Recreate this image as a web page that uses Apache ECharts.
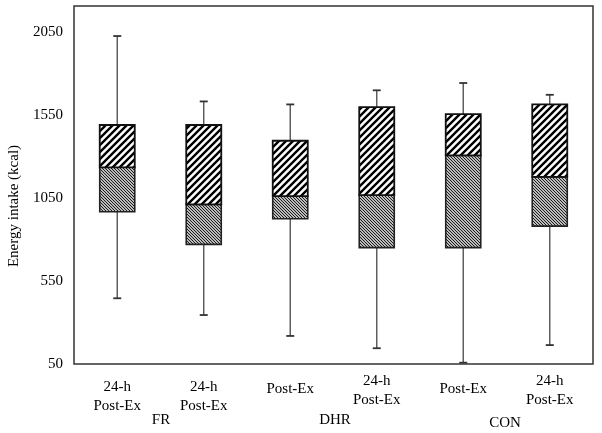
<!DOCTYPE html>
<html>
<head>
<meta charset="utf-8">
<script src="https://cdn.jsdelivr.net/npm/echarts@6/dist/echarts.min.js"></script>
<style>html,body{margin:0;padding:0;background:#fff;}#c{width:602px;height:433px;}</style>
</head>
<body>
<div id="c"></div>
<script>
// ---- data ----
const categories = ['24-h\nPost-Ex', '24-h\nPost-Ex', 'Post-Ex', '24-h\nPost-Ex', 'Post-Ex', '24-h\nPost-Ex'];
const whiskerMin = [446, 345, 219, 145, 58, 164];
const q1Values   = [967, 771, 925, 751, 751, 881];
const medians    = [1235, 1012, 1062, 1068, 1307, 1177];
const q3Values   = [1490, 1490, 1395, 1598, 1556, 1614];
const whiskerMax = [2026, 1632, 1614, 1699, 1743, 1672];
const yTicks = [50, 550, 1050, 1550, 2050];
const groupLabels = ['FR', 'DHR', 'CON'];
const yName = 'Energy intake (kcal)';

// ---- patterns ----
function makePattern(size, lw, color, dir) {
  const c = document.createElement('canvas');
  c.width = size; c.height = size;
  const g = c.getContext('2d');
  g.fillStyle = '#fff'; g.fillRect(0, 0, size, size);
  g.strokeStyle = color; g.lineWidth = lw; g.lineCap = 'square';
  g.beginPath();
  if (dir === '/') {
    g.moveTo(-size, size); g.lineTo(size, -size);
    g.moveTo(0, size * 2); g.lineTo(size * 2, 0);
    g.moveTo(-size, size * 2); g.lineTo(size * 2, -size);
  } else {
    g.moveTo(-size, -size); g.lineTo(size * 2, size * 2);
    g.moveTo(0, -size); g.lineTo(size * 2, size);
    g.moveTo(-size, 0); g.lineTo(size, size * 2);
  }
  g.stroke();
  return c;
}
const boldPattern = makePattern(7, 2.4, '#000', '/');
const finePattern = makePattern(3, 1.1, '#111', '\\');

const seriesData = categories.map((c, i) => [i, whiskerMin[i], q1Values[i], medians[i], q3Values[i], whiskerMax[i]]);

const FONT = 'Liberation Serif';
const gaps = [11.5, 11.5, 13.5, 5.5, 13.5, 5.5];
const rich = { t: { fontFamily: FONT, fontSize: 15, color: '#000', lineHeight: 19 } };
gaps.forEach((g, i) => { rich['g' + i] = { fontSize: 1, lineHeight: g, height: g }; });

const chart = echarts.init(document.getElementById('c'), null, { renderer: 'canvas' });
chart.setOption({
  animation: false,
  backgroundColor: '#fff',
  grid: { left: 74, right: 9, top: 6, bottom: 69, containLabel: false, outerBoundsMode: 'none',
          show: true, borderColor: '#333', borderWidth: 1.5, backgroundColor: 'transparent' },
  xAxis: {
    type: 'category',
    data: categories,
    axisLine: { show: false },
    axisTick: { show: false },
    splitLine: { show: false },
    axisLabel: {
      margin: 2,
      interval: 0,
      formatter: function (v, idx) {
        const lines = v.split('\n').map(s => '{t|' + s + '}');
        return (gaps[idx] > 0 ? '{g' + idx + '| }\n' : '') + lines.join('\n');
      },
      rich: rich
    }
  },
  yAxis: {
    type: 'value',
    min: 50,
    max: 2207,
    interval: 500,
    axisLine: { show: false },
    axisTick: { show: false },
    splitLine: { show: false },
    axisLabel: {
      showMaxLabel: false,
      margin: 11,
      fontFamily: FONT,
      fontSize: 15,
      color: '#000',
      formatter: v => (yTicks.indexOf(v) >= 0 ? String(v) : '')
    }
  },
  series: [{
    type: 'custom',
    data: seriesData,
    renderItem: function (params, api) {
      const x = api.value(0);
      const pMin = api.coord([x, api.value(1)]);
      const pQ1 = api.coord([x, api.value(2)]);
      const pMed = api.coord([x, api.value(3)]);
      const pQ3 = api.coord([x, api.value(4)]);
      const pMax = api.coord([x, api.value(5)]);
      const bw = api.size([1, 0])[0] * 0.405;
      const cx = pMed[0];
      const cap = 4;
      const wStyle = { stroke: '#555', lineWidth: 1.4 };
      const capStyle = { stroke: '#333', lineWidth: 1.8 };
      return {
        type: 'group',
        children: [
          { type: 'line', shape: { x1: cx, y1: pQ3[1], x2: cx, y2: pMax[1] }, style: wStyle },
          { type: 'line', shape: { x1: cx, y1: pMin[1], x2: cx, y2: pQ1[1] }, style: wStyle },
          { type: 'line', shape: { x1: cx - cap, y1: pMax[1], x2: cx + cap, y2: pMax[1] }, style: capStyle },
          { type: 'line', shape: { x1: cx - cap, y1: pMin[1], x2: cx + cap, y2: pMin[1] }, style: capStyle },
          { type: 'rect', shape: { x: cx - bw / 2, y: pMed[1], width: bw, height: pQ1[1] - pMed[1] },
            style: { fill: { image: finePattern, repeat: 'repeat' }, stroke: '#222', lineWidth: 1.6 } },
          { type: 'rect', shape: { x: cx - bw / 2, y: pQ3[1], width: bw, height: pMed[1] - pQ3[1] },
            style: { fill: { image: boldPattern, repeat: 'repeat' }, stroke: '#111', lineWidth: 1.8 } }
        ]
      };
    }
  }],
  graphic: [
    { type: 'text', x: 14, y: 206, rotation: Math.PI / 2,
      style: { text: yName, font: '15px "Liberation Serif"', fill: '#000', align: 'center', verticalAlign: 'middle' } },
    { type: 'text', x: 161, y: 420, style: { text: groupLabels[0], font: '15px "Liberation Serif"', fill: '#000', align: 'center', verticalAlign: 'middle' } },
    { type: 'text', x: 335, y: 420, style: { text: groupLabels[1], font: '15px "Liberation Serif"', fill: '#000', align: 'center', verticalAlign: 'middle' } },
    { type: 'text', x: 505, y: 423, style: { text: groupLabels[2], font: '15px "Liberation Serif"', fill: '#000', align: 'center', verticalAlign: 'middle' } }
  ]
});
</script>
</body>
</html>
